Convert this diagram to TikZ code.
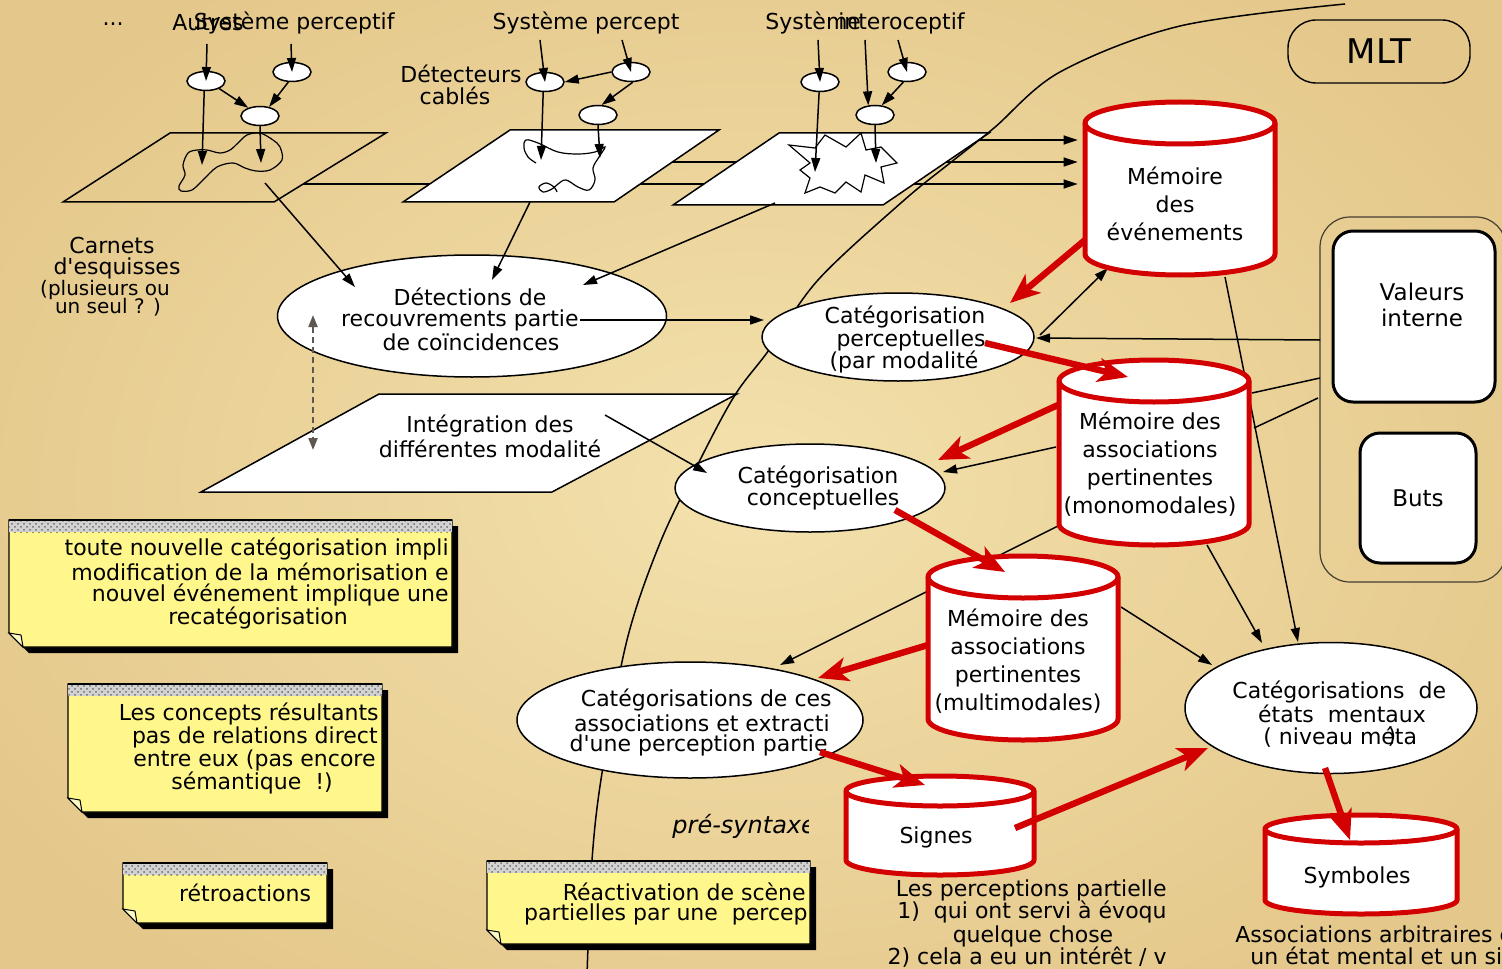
\documentclass[tikz,border=0pt]{standalone}
\usepackage{fontspec}
\setmainfont{DejaVu Sans}[Ligatures=TeXOff,ItalicFont={DejaVu Sans Oblique},BoldFont={DejaVu Sans Bold}]
\usetikzlibrary{shapes.geometric,arrows.meta,calc,patterns}

\definecolor{paperin}{RGB}{243,225,172}
\definecolor{paperout}{RGB}{228,199,138}
\definecolor{memred}{RGB}{210,0,0}
\definecolor{noteyellow}{RGB}{255,247,140}
\definecolor{frame}{RGB}{70,62,50}
\definecolor{dashgray}{RGB}{95,88,80}

\tikzset{
  con/.style={line width=0.75pt,-{Triangle[length=7pt,width=4.5pt]}},
  plainline/.style={line width=0.75pt},
  redarr/.style={draw=memred,line width=3.2pt,-{Stealth[length=15pt,width=12pt,inset=4pt]}},
  bigell/.style={ellipse,draw,fill=white,line width=0.75pt},
  smell/.style={ellipse,draw,fill=white,line width=0.75pt,minimum width=19pt,minimum height=9.5pt},
  cylline/.style={draw=memred,line width=2.5pt},
  cylbox/.style={rectangle,inner sep=0pt},
  cyltext/.style={align=center,font=\fontsize{11}{14}\selectfont},
  sheet/.style={draw,line width=0.75pt},
  box/.style={draw,fill=white,rounded corners=10pt,line width=1.5pt},
  scribble/.style={line width=0.6pt},
}

% memory cylinder: centre x, top y, bottom y, x radius, y radius (all in picture units)
\newcommand\memcyl[5]{%
  \filldraw[cylline,fill=white] ({#1-#4},{#2+#5}) -- ({#1-#4},{#3-#5})
    arc[start angle=180,end angle=0,x radius=#4,y radius=#5]
    -- ({#1+#4},{#2+#5})
    arc[start angle=0,end angle=-180,x radius=#4,y radius=#5] -- cycle;
  \draw[cylline] ({#1-#4},{#2+#5})
    arc[start angle=180,end angle=0,x radius=#4,y radius=#5];
}

% sticky note: left, top, right, bottom
\newcommand\stickynote[4]{%
  \fill[black] ({#1+6},{#2+6}) -- ({#3+6},{#2+6}) -- ({#3+6},{#4+6}) -- ({#1+20},{#4+6}) -- ({#1+6},{#4-8}) -- cycle;
  \filldraw[fill=noteyellow,draw=black,line width=0.6pt] (#1,#2) -- (#3,#2) -- (#3,#4) -- ({#1+14},#4) -- (#1,{#4-14}) -- cycle;
  \fill[gray!35] (#1,#2) rectangle (#3,{#2+12});
  \fill[pattern=crosshatch dots,pattern color=gray!85!black] (#1,#2) rectangle (#3,{#2+12});
  \draw[line width=0.6pt] (#1,#2) -- (#3,#2);
  \filldraw[fill=noteyellow!50!white,line width=0.5pt] (#1,{#4-14}) -- ({#1+12},{#4-12}) -- ({#1+14},#4) -- cycle;
}

\begin{document}
\begin{tikzpicture}[x=0.5pt,y=-0.5pt,
  every node/.style={inner sep=0pt,font=\fontsize{11}{11.5}\selectfont}]
\useasboundingbox (0,0) rectangle (1502,968);
\clip (0,0) rectangle (1502,968);
\shade[inner color=paperin,outer color=paperout] (-150,-150) rectangle (1652,1118);

% anchor boxes of the memories (outlines drawn further down)
\node[cylbox,minimum width=95pt,minimum height=86.5pt] (mev) at (1180,188.5) {};
\node[cylbox,minimum width=95pt,minimum height=92.5pt] (mmo) at (1154,452.5) {};
\node[cylbox,minimum width=95pt,minimum height=92pt] (mmu) at (1023,648) {};
\node[cylbox,minimum width=94pt,minimum height=49.5pt] (sig) at (940,825.5) {};
\node[cylbox,minimum width=96pt,minimum height=49.5pt] (sym) at (1361,864.5) {};

% values and goals
\node[draw=frame,rounded corners=15pt,line width=0.6pt,minimum width=93pt,minimum height=182.5pt] (grp) at (1413,399.5) {};
\node[box,minimum width=81pt,minimum height=85.5pt] (val) at (1414,316.5) {};
\node[align=center,font=\fontsize{11.5}{13}\selectfont] (tval) at (1422,305) {Valeurs\\interne};
\node[box,minimum width=58pt,minimum height=65pt,font=\fontsize{11.5}{12}\selectfont] (buts) at (1418,498) {Buts};
\node[draw,rounded corners=14pt,line width=0.7pt,minimum width=91pt,minimum height=31.5pt,
      font=\fontsize{17}{17}\selectfont] (mlt) at (1379,51.5) {MLT};

% sketchpads feeding the event memory
\coordinate (h1) at (303,184);
\coordinate (h2) at (672,162);
\coordinate (h3) at (979,140);
\draw[con,shorten >=3.5pt] (h1) -- (h1 -| mev.west);
\draw[con,shorten >=3.5pt] (h2) -- (h2 -| mev.west);
\draw[con,shorten >=3.5pt] (h3) -- (h3 -| mev.west);

% the three sketchpads
\draw[sheet] (63,202) -- (170,133) -- (386,133) -- (274,202) -- cycle;
\draw[sheet,fill=white] (403,202) -- (510,130) -- (719,130) -- (614,202) -- cycle;
\draw[sheet,fill=white] (673,205) -- (779,133) -- (989,133) -- (883,205) -- cycle;

\draw[scribble] plot[smooth cycle,tension=0.55] coordinates {(188,153) (183,165) (185,175) (179,186) (181,191) (192,190) (203,180) (217,167) (233,163) (245,168) (256,171) (270,170) (282,160) (280,147) (273,140) (260,133) (247,135) (238,143) (230,150) (220,153) (207,150) (197,150)};
\draw[scribble] plot[smooth,tension=0.6] coordinates {(536,163) (528,157) (524,148) (526,140) (538,143) (558,152) (578,154) (595,152) (605,147) (599,157) (593,168) (595,180) (589,190) (578,187) (566,180) (558,184) (552,189) (543,192) (539,187) (546,183) (554,187) (557,192)};
\draw[scribble] (789,145) -- (815,148) -- (825,135) -- (846,147) -- (861,133) -- (866,150) -- (881,147) -- (897,163) -- (881,167) -- (884,183) -- (865,175) -- (861,192) -- (846,182) -- (835,193) -- (820,187) -- (805,193) -- (810,178) -- (800,170) -- (810,163) -- cycle;

% labels at the top
\node (tdots) at (113,24) {...};
\node[anchor=west] (tautre) at (172,23) {Autres};
\node[anchor=east] (tsys1) at (395,23) {Système perceptif};
\node (tsys2) at (586,23) {Système percept};
\node[anchor=west] (tsys3) at (765,23) {Système};
\node[anchor=east] (tinter) at (965,23) {interoceptif};
\node (tdetA) at (461,74) {Détecteurs};
\node (tdetB) at (455,96) {cablés};

\node (tcar) at (112,245) {Carnets};
\node (tesq) at (117,268) {d'esquisses};
\node[font=\fontsize{10}{10}\selectfont] (tplu) at (105,290) {(plusieurs ou};
\node[font=\fontsize{10}{10}\selectfont] (tseul) at (108,307) {un seul ? )};

% wired detectors
\node[smell] (s1) at (206,81) {};
\node[smell] (s2) at (292,72) {};
\node[smell] (s3) at (260,116) {};
\node[smell] (s4) at (545,82) {};
\node[smell] (s5) at (631,72) {};
\node[smell] (s6) at (598,115) {};
\node[smell] (s7) at (820,82) {};
\node[smell] (s8) at (907,72) {};
\node[smell] (s9) at (875,115) {};

\coordinate (in1) at (207,44);  \coordinate (in2) at (291,44);
\coordinate (in3) at (540,40);  \coordinate (in4) at (622,40);
\coordinate (in5) at (818,40);  \coordinate (in6) at (865,40);  \coordinate (in7) at (898,40);
\coordinate (d1) at (202,165);  \coordinate (d2) at (261,163);
\coordinate (d3) at (541,160);  \coordinate (d4) at (600,158);
\coordinate (d5) at (815,172);  \coordinate (d6) at (876,163);

\draw[con] (in1) -- (s1.center);
\draw[con] (in2) -- (s2.center);
\draw[con] (s1.-30) -- (s3.145);
\draw[con] (s2.-110) -- (s3.45);
\draw[con] (s1.-100) -- (d1);
\draw[con] (s3.-90) -- (d2);

\draw[con] (in3) -- (s4.center);
\draw[con] (in4) -- (s5.center);
\draw[con] (s5.west) -- (s4.east);
\draw[con] (s5.-80) -- (s6.70);
\draw[con] (s4.-100) -- (d3);
\draw[con] (s6.-90) -- (d4);

\draw[con] (in5) -- (s7.center);
\draw[con] (in6) -- (s9.125);
\draw[con] (in7) -- (s8.center);
\draw[con] (s8.-110) -- (s9.55);
\draw[con] (s7.-95) -- (d5);
\draw[con] (s9.-90) -- (d6);

% integration plane
\draw[sheet,fill=white] (201,492) -- (379,394) -- (737,394) -- (552,492) -- cycle;
\node (tiA) at (490,426) {Intégration des};
\node (tiB) at (490,449) {différentes modalité};
\coordinate (ci) at (605,415);
\coordinate (ni) at (313,450);

% boundary of the long term memory
\draw[line width=0.75pt] plot[smooth,tension=0.55] coordinates {(1345,4) (1180,26) (1060,72) (994,128) (950,163) (902,202) (818,280) (769,350) (735,395) (700,460) (660,543) (627,640) (602,773) (592,860) (587,975)};

% processing stages
\node[bigell,minimum width=194.5pt,minimum height=61pt] (det) at (472,316) {};
\node (tdA) at (470,297) {Détections de};
\node[anchor=east] (tdB) at (579,320) {recouvrements partie};
\node (tdC) at (471,342) {de coïncidences};

\node[bigell,minimum width=136pt,minimum height=44pt] (cp) at (898,337) {};
\node (tcpA) at (905,317) {Catégorisation};
\node (tcpB) at (911,340) {perceptuelles};
\node (tcpC) at (904,362) {(par modalité};

\node[bigell,minimum width=135pt,minimum height=44pt] (cc) at (810,488) {};
\node (tccA) at (818,477) {Catégorisation};
\node (tccB) at (823,499) {conceptuelles};

\node[bigell,minimum width=173pt,minimum height=58pt] (cas) at (690,720) {};
\node[anchor=east] (tcasA) at (832,700) {Catégorisations de ces};
\node[anchor=east] (tcasB) at (830,723) {associations et extracti};
\node[anchor=east] (tcasC) at (828,745) {d'une perception partie};

\node[bigell,minimum width=146pt,minimum height=65.5pt] (cem) at (1331,708) {};
\node[anchor=west] (tcemA) at (1232,692) {Catégorisations\ \ de};
\node (tcemB) at (1342,714) {états\ \ mentaux};
\node[anchor=west] (tcemC) at (1263,737) {( niveau méta};
\node (tcemD) at (1392,737) {)};

% thin connectors
\coordinate (sa) at (265,183);
\coordinate (sb) at (530,202);
\coordinate (sc) at (775,203);
\draw[con] (sa) -- ($(det.center)+(-117,-29)$);
\draw[con] (sb) -- ($(det.center)+(20,-36)$);
\draw[con] (sc) -- ($(det.center)+(111,-31)$);
\draw[con] ($(det.center)+(108,4)$) -- ($(cp.center)+(-134,-17)$);
\draw[con] ($(cp.center)+(142,-2)$) -- ($(mev.center)+(-72,79.5)$);
\draw[con] ($(grp.center)+(-93,-59.5)$) -- ($(cp.center)+(138,1)$);
\draw[plainline] ($(mmo.center)+(98,-59.5)$) -- ($(grp.center)+(-93,-21.5)$);
\draw[plainline] ($(mmo.center)+(100,-24.5)$) -- ($(grp.center)+(-95,-1.5)$);
\draw[con] ($(mev.center)+(45,88.5)$) -- ($(cem.center)+(-33,-66)$);
\draw[con] ($(mmo.center)+(53,92.5)$) -- ($(cem.center)+(-69,-65)$);
\draw[con] ($(mmu.center)+(98,-41)$) -- ($(cem.center)+(-119,-43)$);
\draw[con] ($(mmo.center)+(-94,72.5)$) -- ($(cas.center)+(90,-55)$);
\draw[con] ($(mmo.center)+(-98,-5.5)$) -- ($(cc.center)+(133,-16)$);
\draw[con] (ci) -- ($(cc.center)+(-103,-15)$);
\draw[draw=dashgray,line width=1pt,dash pattern=on 3pt off 2pt,
      {Triangle[length=6pt,width=4.5pt]}-{Triangle[length=6pt,width=4.5pt]}]
      ($(det.center)+(-159,-1)$) -- (ni);

% memories
\memcyl{1180}{102}{275}{95}{21}
\memcyl{1154}{360}{545}{95}{21}
\memcyl{1023}{556}{740}{95}{21}
\memcyl{940}{776}{875}{94}{15}
\memcyl{1361}{815}{914}{96}{14}
\node[cyltext] (tmev) at (1175,204) {Mémoire\\des\\événements};
\node[cyltext] (tmmo) at (1150,464) {Mémoire des\\associations\\pertinentes\\(monomodales)};
\node[cyltext] (tmmu) at (1018,661) {Mémoire des\\associations\\pertinentes\\(multimodales)};
\node (tsig) at (936,837) {Signes};
\node (tsym) at (1357,877) {Symboles};

% main flow between stages and memories
\draw[redarr] ($(mev.center)+(-95,51.5)$) -- ($(cp.center)+(112,-34)$);
\draw[redarr] ($(cp.center)+(87,6)$) -- ($(mmo.center)+(-26,-75.5)$);
\draw[redarr] ($(mmo.center)+(-96,-47.5)$) -- ($(cc.center)+(128,-28)$);
\draw[redarr] ($(cc.center)+(85,22)$) -- ($(mmu.center)+(-18,-76)$);
\draw[redarr] ($(mmu.center)+(-95,-3)$) -- ($(cas.center)+(128,-42)$);
\draw[redarr] ($(cas.center)+(130,32)$) -- ($(sig.center)+(-15,-40.5)$);
\draw[redarr] ($(sig.center)+(75,2.5)$) -- ($(cem.center)+(-123,40)$);
\draw[redarr] ($(cem.center)+(-6,60)$) -- ($(sym.center)+(-11,-24.5)$);

% captions under the memories
\begin{scope}
  \clip (640,800) rectangle (808,850);
  \node[anchor=west,font=\fontsize{12}{12}\selectfont\itshape] (tpre) at (672,826) {pré-syntaxe};
\end{scope}
\node[anchor=east] (tpp1) at (1167,890) {Les perceptions partielle};
\node[anchor=east] (tpp2) at (1167,912) {1)\ \ qui ont servi à évoqu};
\node (tpp3) at (1033,936) {quelque chose};
\node[anchor=east] (tpp4) at (1167,957) {2) cela a eu un intérêt / v};
\node[anchor=west] (tas1) at (1235,934) {Associations arbitraires e};
\node[anchor=west] (tas2) at (1250,956) {un état mental et un si};

% notes
\stickynote{9}{520}{452}{647}
\node[anchor=east] (n1a) at (449,549) {toute nouvelle catégorisation impli};
\node[anchor=east] (n1b) at (449,572) {modification de la mémorisation e};
\node[anchor=east] (n1c) at (449,595) {nouvel événement implique une};
\node (n1d) at (258,618) {recatégorisation};

\stickynote{68}{684}{382}{812}
\node[anchor=east] (n2a) at (379,714) {Les concepts résultants};
\node[anchor=east] (n2b) at (378,737) {pas de relations direct};
\node[anchor=east] (n2c) at (376,760) {entre eux (pas encore};
\node (n2d) at (252,783) {sémantique\ \ !)};

\stickynote{123}{863}{327}{923}
\node (n3) at (245,893) {rétroactions};

\stickynote{487}{861}{810}{944}
\node[anchor=east] (n4a) at (806,892) {Réactivation de scène};
\node[anchor=east] (n4b) at (808,914) {partielles par une\ \ percep};
\end{tikzpicture}
\end{document}
